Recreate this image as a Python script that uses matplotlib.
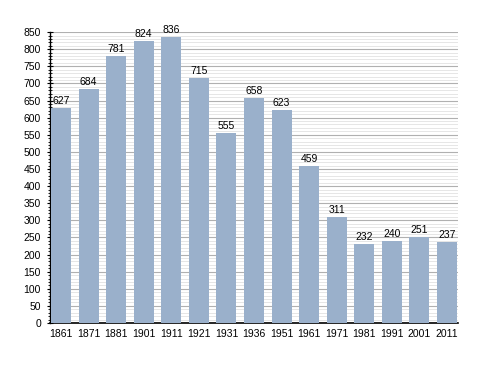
import numpy as np
from matplotlib import pyplot as plt
from matplotlib.ticker import MultipleLocator

plt.rcParams['font.family'] = ['Liberation Sans', 'DejaVu Sans']

years = ["1861", "1871", "1881", "1901", "1911", "1921", "1931", "1936",
         "1951", "1961", "1971", "1981", "1991", "2001", "2011"]
population = [627, 684, 781, 824, 836, 715, 555, 658, 623, 459, 311, 232, 240, 251, 237]

fig = plt.figure(figsize=(4.88, 3.73), dpi=100)
ax = fig.add_axes([0.1025, 0.134, 0.836, 0.78])

x = np.arange(len(years))
ax.bar(x, population, width=0.73, color="#9ab0cb", zorder=3)

for xi, v in zip(x, population):
    ax.text(xi, v + 6, str(v), ha="center", va="bottom", fontsize=7.5, zorder=4)

ax.set_xlim(-0.4, len(years) - 0.6)
ax.set_ylim(0, 850)
ax.set_xticks(x)
ax.set_xticklabels(years, fontsize=7.5)
ax.yaxis.set_major_locator(MultipleLocator(50))
ax.yaxis.set_minor_locator(MultipleLocator(10))
ax.tick_params(axis="y", labelsize=7.5, length=5, width=0.8, direction="inout", pad=4)
ax.tick_params(axis="y", which="minor", length=3, width=0.6, direction="inout")
ax.tick_params(axis="x", length=0, pad=4)

ax.grid(axis="y", which="major", color="#b0b0b0", linewidth=0.8, zorder=0)
ax.grid(axis="y", which="minor", color="#e2e2e2", linewidth=0.6, zorder=0)

for side in ["top", "right"]:
    ax.spines[side].set_visible(False)
ax.spines["left"].set_linewidth(1.0)
ax.spines["bottom"].set_linewidth(1.2)

fig.savefig("out.png", dpi=100)
